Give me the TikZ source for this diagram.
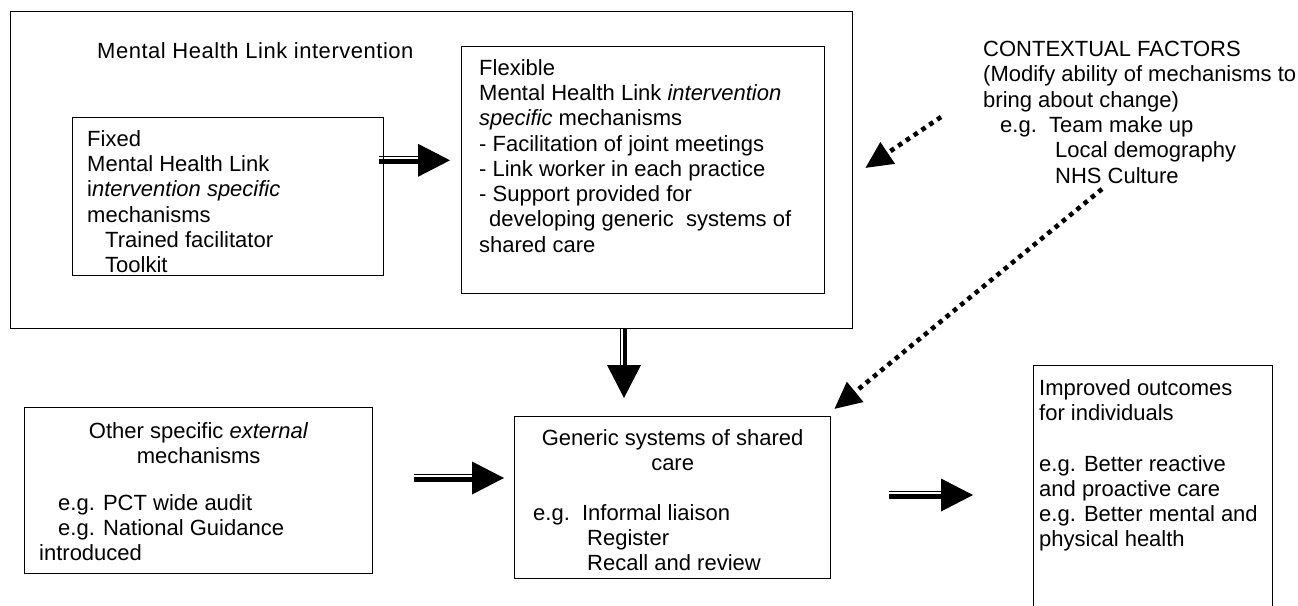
\documentclass[tikz,border=0pt]{standalone}
\usepackage{fontspec}
\setmainfont{Liberation Sans}
\newfontfamily\titlefont[LetterSpace=2.4]{Liberation Sans}
\usetikzlibrary{arrows.meta,calc}
\newcommand\hdblarrow[2]{%
  \fill ($(#1)+(0,-1.3)$) rectangle ($(#2)+(-32,4)$);
  \fill ($(#1)+(0,-4.3)$) rectangle ($(#2)+(-32,-3)$);
  \fill ($(#2)+(-32,-16.5)$) -- (#2) -- ($(#2)+(-32,16.5)$) -- cycle;
}
\newcommand\vdblarrow[2]{%
  \fill ($(#1)+(-4.5,0)$) rectangle ($(#2)+(-3.3,-33)$);
  \fill ($(#1)+(-1.3,0)$) rectangle ($(#2)+(3.3,-33)$);
  \fill ($(#2)+(-17,-33)$) -- (#2) -- ($(#2)+(17,-33)$) -- cycle;
}
\begin{document}
\begin{tikzpicture}[x=1pt,y=-1pt,
  box/.style={draw, line width=1.3pt, inner sep=0pt, anchor=north west},
  txt/.style={inner sep=0pt, anchor=north west, align=left, font=\fontsize{22}{25.3}\selectfont},
  ctxt/.style={inner sep=0pt, anchor=north, align=center, font=\fontsize{22}{25.3}\selectfont},
  dotarrow/.style={line width=4.6pt, dash pattern=on 4.6pt off 4.8pt, -{Triangle[length=27pt,width=25pt]}}]
\useasboundingbox (0,0) rectangle (1298,605);
\clip (0,0) rectangle (1298,605);
\fill[white] (0,0) rectangle (1298,605);

% boxes
\node[box, minimum width=842, minimum height=317] (outer) at (10,11) {};
\node[box, minimum width=311, minimum height=158] (fixed) at (72,117) {};
\node[box, minimum width=363, minimum height=247] (flex) at (461,46) {};
\node[box, minimum width=348, minimum height=166] (other) at (24,407) {};
\node[box, minimum width=316, minimum height=162] (generic) at (514,416) {};
\node[box, minimum width=239, minimum height=260] (improved) at (1033,365) {};

% texts
\node[txt, font=\fontsize{22}{25.3}\titlefont] (title) at (97,42) {Mental Health Link intervention};
\begin{scope}
\clip (fixed.north west) rectangle (fixed.south east);
\node[txt] (fixedtxt) at ($(fixed.north west)+(15,13)$) {Fixed\\Mental Health Link\\i\textit{ntervention specific}\\mechanisms\\\hspace*{18pt}Trained facilitator\\\hspace*{18pt}Toolkit};
\end{scope}
\node[txt] (flextxt) at ($(flex.north west)+(18,13)$) {Flexible\\Mental Health Link \textit{intervention}\\\textit{specific} mechanisms\\- Facilitation of joint meetings\\- Link worker in each practice\\- Support provided for\\\hspace*{10pt}developing generic\ \ systems of\\shared care};
\node[txt] (context) at (983,41) {CONTEXTUAL FACTORS\\(Modify ability of mechanisms to\\bring about change)\\\hspace*{17pt}e.g.\ \ Team make up\\\hspace*{72pt}Local demography\\\hspace*{72pt}NHS Culture};
\node[ctxt] (othertop) at ($(other.north)+(0,15)$) {Other specific \textit{external}\\mechanisms};
\node[txt] (otherbot) at ($(other.north west)+(15,87)$) {\hspace*{19pt}e.g. PCT wide audit\\\hspace*{19pt}e.g. National Guidance\\introduced};
\node[ctxt] (generictop) at ($(generic.north)+(0,13)$) {Generic systems of shared\\care};
\node[txt] (genericbot) at ($(generic.north west)+(19,88)$) {e.g.\ \ Informal liaison\\\hspace*{54pt}Register\\\hspace*{54pt}Recall and review};
\node[txt] (imptxt) at ($(improved.north west)+(6,14)$) {Improved outcomes\\for individuals\\\mbox{}\\e.g. Better reactive\\and proactive care\\e.g. Better mental and\\physical health};

% double-line arrows
\coordinate (a1s) at ($(fixed.north east)+(-5,43.3)$);
\coordinate (a1t) at ($(flex.north west)+(-11,114.3)$);
\hdblarrow{a1s}{a1t}
\coordinate (a2s) at ($(outer.south west)+(614,0)$);
\coordinate (a2t) at ($(generic.north west)+(110,-18)$);
\vdblarrow{a2s}{a2t}
\coordinate (a3s) at ($(other.north east)+(41,71)$);
\coordinate (a3t) at ($(generic.north west)+(-10,62)$);
\hdblarrow{a3s}{a3t}
\coordinate (a4s) at ($(generic.north east)+(58,79)$);
\coordinate (a4t) at ($(improved.north west)+(-60,130)$);
\hdblarrow{a4s}{a4t}

% dotted arrows
\coordinate (d1s) at (941,117);
\coordinate (d1t) at ($(outer.north east)+(12,157)$);
\draw[dotarrow] (d1s) -- (d1t);
\coordinate (d2s) at (1102,189);
\coordinate (d2t) at ($(generic.north east)+(3,-7)$);
\draw[dotarrow] (d2s) -- (d2t);
\end{tikzpicture}
\end{document}
